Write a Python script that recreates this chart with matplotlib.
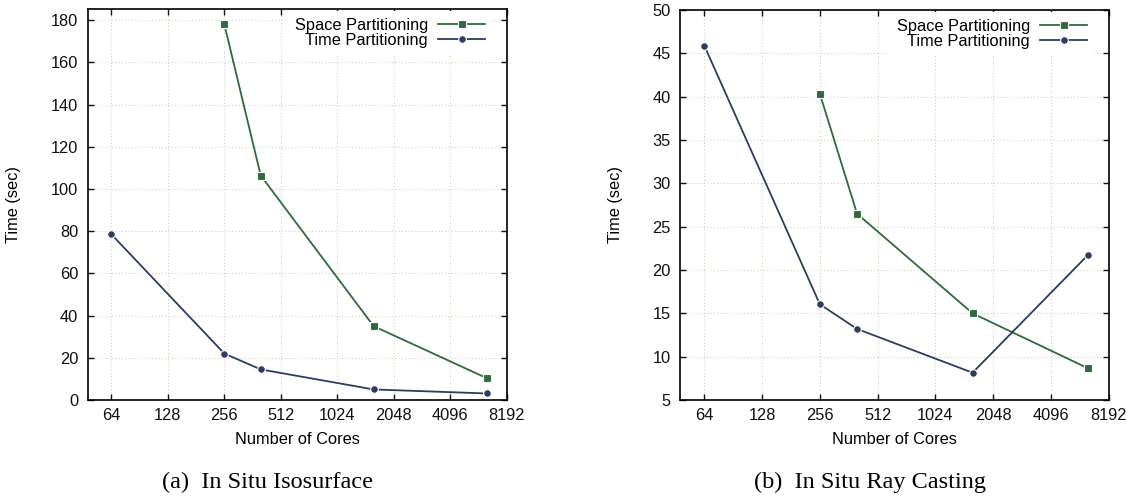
import matplotlib
matplotlib.use("Agg")
import matplotlib.pyplot as plt
from matplotlib.ticker import FixedLocator, NullLocator

# данные
cores = [64, 256, 400, 1600, 6400]
space_cores = [256, 400, 1600, 6400]

iso_space = [178.0, 106.4, 35.0, 10.4]
iso_time = [78.5, 22.0, 14.5, 5.0, 3.1]

ray_space = [40.35, 26.5, 15.0, 8.65]
ray_time = [45.9, 16.05, 13.2, 8.15, 21.75]

xticks = [64, 128, 256, 512, 1024, 2048, 4096, 8192]
captions = ["(a)  In Situ Isosurface", "(b)  In Situ Ray Casting"]

green = "#2e6b3b"
navy = "#2c3d62"
fs = 11.8

plt.rcParams['font.family'] = ['Liberation Sans', 'DejaVu Sans']

fig = plt.figure(figsize=(11.34, 4.98), dpi=100)
ax1 = fig.add_axes([0.0776, 0.1968, 0.3692, 0.7846])
ax2 = fig.add_axes([0.5999, 0.1968, 0.3778, 0.7831])


def style_axis(ax, ylim, yticks, leg_x):
    ax.set_xscale('log', base=2)
    ax.set_xlim(48, 8192)
    ax.set_ylim(*ylim)
    ax.xaxis.set_major_locator(FixedLocator(xticks))
    ax.xaxis.set_minor_locator(NullLocator())
    ax.set_xticklabels([str(t) for t in xticks])
    ax.set_yticks(yticks)
    ax.grid(True, linestyle=(0, (1, 2)), color='#cfd3bc', linewidth=0.8)
    ax.set_axisbelow(True)
    ax.tick_params(direction='in', length=4, width=1.0, top=True, right=True,
                   labelsize=fs, colors='#111111')
    ax.tick_params(axis='x', pad=6)
    ax.tick_params(axis='y', pad=7)
    for s in ax.spines.values():
        s.set_linewidth(1.2)
    ax.set_xlabel('Number of Cores', fontsize=fs, labelpad=6)
    ax.set_ylabel('Time (sec)', fontsize=fs)
    leg = ax.legend(loc='upper right', bbox_to_anchor=(leg_x, 0.995), markerfirst=False,
                    frameon=True, fancybox=False, framealpha=1.0, edgecolor='none',
                    fontsize=fs, handlelength=2.9, handletextpad=0.6,
                    labelspacing=0.0, borderpad=0.4, borderaxespad=0)
    return leg


for ax, sp, tp in [(ax1, iso_space, iso_time), (ax2, ray_space, ray_time)]:
    ax.plot(space_cores, sp, color=green, lw=1.3, marker='s', ms=5.5,
            mec='white', mew=0.8, label='Space Partitioning')
    ax.plot(cores, tp, color=navy, lw=1.3, marker='o', ms=5.5,
            mec='white', mew=0.8, label='Time Partitioning')

style_axis(ax1, (0, 185.2), range(0, 181, 20), 0.965)
style_axis(ax2, (5, 50), range(5, 51, 5), 0.9657)

ax1.yaxis.set_label_coords(-0.161, 0.5)
ax2.yaxis.set_label_coords((622.9 - 680.3) / 428.4, 0.5)

fig.text(268 / 1134, 1 - 482 / 498, captions[0], ha='center', va='center',
         fontsize=17.5, family='Liberation Serif')
fig.text(870 / 1134, 1 - 482 / 498, captions[1], ha='center', va='center',
         fontsize=17.5, family='Liberation Serif')

fig.savefig('out.png', dpi=100)
